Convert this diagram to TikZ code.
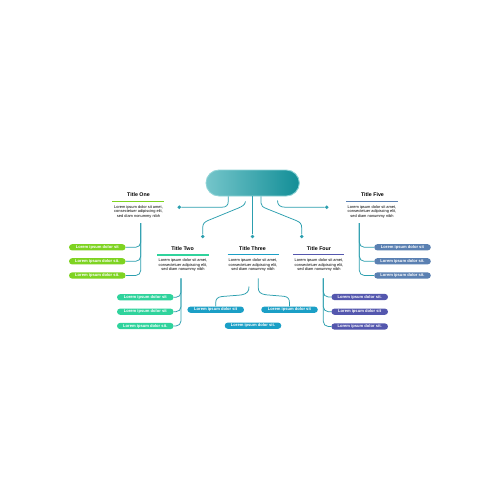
\documentclass[tikz,border=0pt]{standalone}
\usepackage{fontspec}
\setmainfont{Liberation Sans}
\definecolor{cOne}{HTML}{7ED321}
\definecolor{cTwo}{HTML}{2FD39C}
\definecolor{cThree}{HTML}{1B9FC6}
\definecolor{cFour}{HTML}{5457AE}
\definecolor{cFive}{HTML}{5A80B2}
\definecolor{conn}{HTML}{2C9FAF}
\definecolor{boxL}{HTML}{74C5CA}
\definecolor{boxR}{HTML}{128E97}
\definecolor{boxB}{HTML}{8ED3D6}
\tikzset{
  mainbox/.style={rectangle, rounded corners=13pt, minimum width=93.3pt, minimum height=26pt, inner sep=0pt,
    left color=boxL, right color=boxR, draw=boxB, line width=0.9pt},
  ttl/.style={font=\bfseries\fontsize{5.3}{6}\selectfont, inner sep=0pt, text=black},
  desc/.style={font=\fontsize{3.95}{4.5}\selectfont, align=center, inner sep=0pt, text=black},
  uline/.style={line width=1.5pt},
  pill/.style={rectangle, rounded corners=3pt, minimum width=56.5pt, minimum height=6.2pt, inner sep=0pt,
    text=white, font=\bfseries\fontsize{4.1}{4.5}\selectfont},
  conn/.style={draw=conn, line width=0.75pt},
  dot/.style={circle, fill=conn, minimum size=3.8pt, inner sep=0pt},
}
\begin{document}
\begin{tikzpicture}[x=1pt,y=-1pt]
\useasboundingbox[fill=white] (0,0) rectangle (500,500);

% main box
\node[mainbox] (main) at (252.7,183) {};

% dots
\node[dot] (dl) at (179.3,207.2) {};
\node[dot] (d2) at (202.7,236.5) {};
\node[dot] (d3) at (252.5,236.5) {};
\node[dot] (d4) at (301.7,236.5) {};
\node[dot] (dr) at (326.7,207.2) {};

% connectors from main box
\draw[conn] (main.south -| 228.3,0) -- (228.3,201) .. controls (228.3,205.5) and (226,207.2) .. (222,207.2) -- (dl);
\coordinate (s2) at (245.5,201.5);
\draw[conn] (s2) .. controls (245,205) and (242,206.5) .. (238,208.2) -- (208,220.5) .. controls (204,222.2) and (202.7,224) .. (202.7,228) -- (d2);
\draw[conn] (main.south -| d3) -- (d3);
\draw[conn] (main.south -| 261,0) -- (261,203) .. controls (261,206) and (263,207.2) .. (266.5,208.6) -- (296.5,220.7) .. controls (300.2,222.2) and (301.7,224) .. (301.7,228) -- (d4);
\coordinate (s5) at (277.5,200.5);
\draw[conn] (s5) .. controls (277.5,205) and (280,207.2) .. (285,207.2) -- (dr);

% ---------- Title One ----------
\node[ttl] (t1) at (138.5,194.8) {Title One};
\coordinate (u1a) at (112,201.3); \coordinate (u1b) at (164,201.3);
\draw[uline, cOne] (u1a) -- (u1b);
\node[desc] (x1) at (138.5,211.6) {Lorem ipsum dolor sit amet,\\consectetuer adipiscing elit,\\sed diam nonummy nibh};
\coordinate (v1) at (140.7,223);
\node[pill, fill=cOne] (p11) at (97.3,247.3) {Lorem ipsum dolor sit};
\node[pill, fill=cOne] (p12) at (97.3,261.3) {Lorem ipsum dolor sit.};
\node[pill, fill=cOne] (p13) at (97.3,275.5) {Lorem ipsum dolor sit.};
\foreach \p in {p11,p12,p13} \draw[conn, rounded corners=5pt] (v1) |- (\p.east);

% ---------- Title Five ----------
\node[ttl] (t5) at (372.5,194.8) {Title Five};
\coordinate (u5a) at (346,201.3); \coordinate (u5b) at (397.7,201.3);
\draw[uline, cFive] (u5a) -- (u5b);
\node[desc] (x5) at (372,211.6) {Lorem ipsum dolor sit amet,\\consectetuer adipiscing elit,\\sed diam nonummy nibh};
\coordinate (v5) at (359.3,223);
\node[pill, fill=cFive] (p51) at (402.5,247.3) {Lorem ipsum dolor sit};
\node[pill, fill=cFive] (p52) at (402.5,261.3) {Lorem ipsum dolor sit.};
\node[pill, fill=cFive] (p53) at (402.5,275.5) {Lorem ipsum dolor sit.};
\foreach \p in {p51,p52,p53} \draw[conn, rounded corners=5pt] (v5) |- (\p.west);

% ---------- Title Two ----------
\node[ttl] (t2) at (182.5,248.8) {Title Two};
\coordinate (u2a) at (157,255); \coordinate (u2b) at (208.7,255);
\draw[uline, cTwo] (u2a) -- (u2b);
\node[desc] (x2) at (183,265.1) {Lorem ipsum dolor sit amet,\\consectetuer adipiscing elit,\\sed diam nonummy nibh};
\coordinate (v2) at (181,278.3);
\node[pill, fill=cTwo] (p21) at (145.3,297.3) {Lorem ipsum dolor sit};
\node[pill, fill=cTwo] (p22) at (145.3,311.7) {Lorem ipsum dolor sit};
\node[pill, fill=cTwo] (p23) at (145.3,326) {Lorem ipsum dolor sit.};
\foreach \p in {p21,p22,p23} \draw[conn, rounded corners=5pt] (v2) |- (\p.east);

% ---------- Title Three ----------
\node[ttl] (t3) at (252.5,248.3) {Title Three};
\coordinate (u3a) at (227.7,254.5); \coordinate (u3b) at (279,254.5);
\draw[uline, cThree] (u3a) -- (u3b);
\node[desc] (x3) at (253,265.1) {Lorem ipsum dolor sit amet,\\consectetuer adipiscing elit,\\sed diam nonummy nibh};
\node[pill, fill=cThree] (p31) at (215.7,309.7) {Lorem ipsum dolor sit};
\node[pill, fill=cThree] (p32) at (289.5,309.7) {Lorem ipsum dolor sit};
\node[pill, fill=cThree] (p33) at (253,325.7) {Lorem ipsum dolor sit.};
\coordinate (s31) at (249,286.5);
\coordinate (s32) at (258.3,278.3);
\draw[conn] (s31) .. controls (249,291) and (247.5,294) .. (241,295) -- (222,296.5) .. controls (217.5,297) and (215.7,299) .. (215.7,303) -- (p31.north);
\draw[conn] (s32) -- (258.3,288) .. controls (258.3,292) and (260.5,294) .. (266,294.8) -- (284,296.3) .. controls (288,296.8) and (289.5,299) .. (289.5,303) -- (p32.north);

% ---------- Title Four ----------
\node[ttl] (t4) at (319,248.3) {Title Four};
\coordinate (u4a) at (293.3,254.5); \coordinate (u4b) at (344.3,254.5);
\draw[uline, cFour] (u4a) -- (u4b);
\node[desc] (x4) at (319,265.1) {Lorem ipsum dolor sit amet,\\consectetuer adipiscing elit,\\sed diam nonummy nibh};
\coordinate (v4) at (323.3,278.3);
\node[pill, fill=cFour] (p41) at (359.7,297) {Lorem ipsum dolor sit.};
\node[pill, fill=cFour] (p42) at (359.7,311.7) {Lorem ipsum dolor sit};
\node[pill, fill=cFour] (p43) at (359.7,326.5) {Lorem ipsum dolor sit.};
\foreach \p in {p41,p42,p43} \draw[conn, rounded corners=5pt] (v4) |- (\p.west);
\end{tikzpicture}
\end{document}
